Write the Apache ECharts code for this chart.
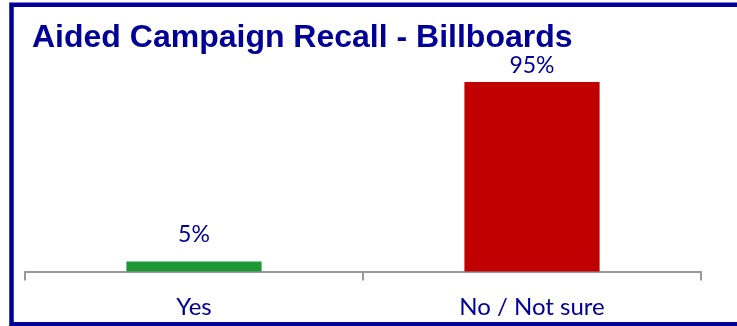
<!DOCTYPE html>
<html>
<head>
<meta charset="utf-8">
<script src="https://cdn.jsdelivr.net/npm/echarts@6/dist/echarts.min.js"></script>
<style>
  html, body { margin: 0; padding: 0; background: #ffffff; }
  #chart { width: 737px; height: 326px; }
</style>
</head>
<body>
<div id="chart"></div>
<script>
// Survey answers and their shares (percent)
const categories = ['Yes', 'No / Not sure'];
const shares = [5, 95];
const barColors = ['#1F9737', '#C00000'];
// Label distance above each bar top, px
const labelGaps = [15, 5];

const navy = '#000099';

const chart = echarts.init(document.getElementById('chart'), null, { renderer: 'canvas' });

chart.setOption({
  animation: false,
  backgroundColor: '#ffffff',
  title: {
    text: 'Aided Campaign Recall - Billboards',
    left: 32,
    top: 22,
    padding: 0,
    textStyle: {
      fontFamily: '"Liberation Sans", Arial, sans-serif',
      fontWeight: 'bold',
      fontSize: 32,
      color: navy
    }
  },
  graphic: [{
    type: 'rect',
    shape: { x: 11.5, y: 4.8, width: 760, height: 319.5 },
    style: { fill: null, stroke: navy, lineWidth: 4.5 },
    silent: true,
    z: 10
  }],
  grid: { left: 25, right: 36, top: 72, bottom: 54.5, containLabel: false },
  xAxis: {
    type: 'category',
    data: categories,
    axisLine: { lineStyle: { color: '#999999', width: 2 } },
    axisTick: { show: true, length: 9, alignWithLabel: false, lineStyle: { color: '#999999', width: 2 } },
    axisLabel: {
      color: navy,
      fontFamily: 'Lato, "Open Sans", sans-serif',
      fontSize: 24,
      margin: 24
    }
  },
  yAxis: {
    type: 'value',
    min: 0,
    max: 100,
    show: false,
    splitLine: { show: false }
  },
  series: [{
    type: 'bar',
    barWidth: '40%',
    data: shares.map((v, i) => ({
      value: v,
      itemStyle: { color: barColors[i] },
      label: { distance: labelGaps[i] }
    })),
    label: {
      show: true,
      position: 'top',
      formatter: '{c}%',
      color: navy,
      fontFamily: 'Lato, "Open Sans", sans-serif',
      fontSize: 23
    }
  }]
});
</script>
</body>
</html>
